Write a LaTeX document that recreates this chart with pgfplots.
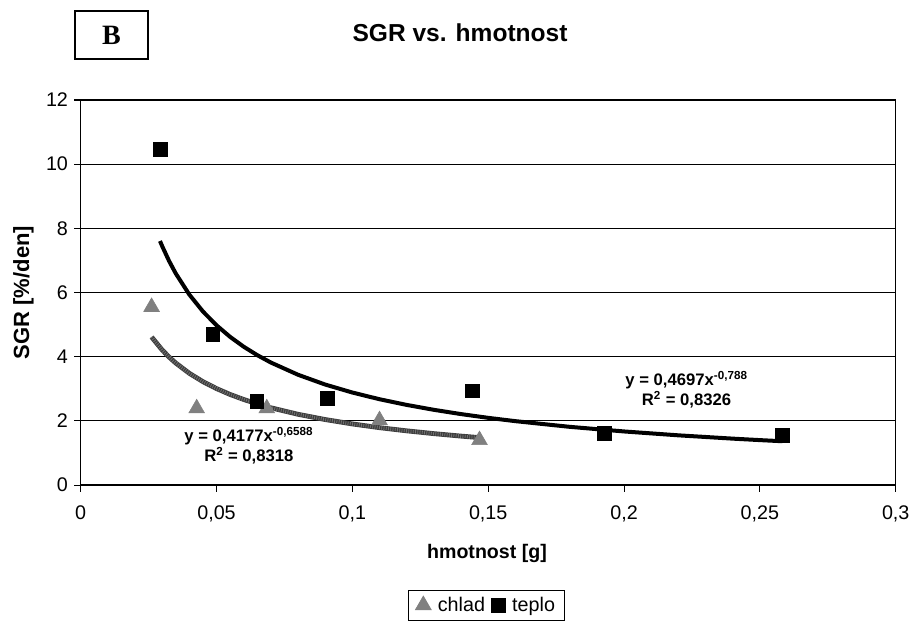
\documentclass[border=0pt]{standalone}
\usepackage{pgfplots}
\pgfplotsset{compat=1.18}
\usepackage{fontspec}
\setmainfont{Liberation Sans}
\newfontfamily\timesfont{Liberation Serif}
\definecolor{chladgray}{RGB}{128,128,128}
\definecolor{trendgray}{RGB}{60,60,60}
\definecolor{hatchgray}{RGB}{115,115,115}
\pgfplotstableread{
x y
0.0261 4.613
0.030 4.209
0.0325 3.992
0.035 3.802
0.040 3.482
0.045 3.222
0.050 3.006
0.055 2.823
0.060 2.666
0.065 2.529
0.070 2.408
0.080 2.205
0.090 2.041
0.100 1.904
0.110 1.788
0.120 1.689
0.130 1.602
0.140 1.525
0.1468 1.478
}\chladtrend
\begin{document}
\begin{tikzpicture}
\useasboundingbox (-60.5pt,-103.5pt) rectangle (624.2pt,363.75pt);
\begin{axis}[
  at={(0,0)}, anchor=south west,
  width=611.25pt, height=288.75pt, scale only axis,
  xmin=0, xmax=0.3, ymin=0, ymax=12,
  xtick={0,0.05,0.1,0.15,0.2,0.25,0.3},
  xticklabels={{0},{0,05},{0,1},{0,15},{0,2},{0,25},{0,3}},
  ytick={0,2,4,6,8,10,12},
  yticklabels={0,2,4,6,8,10,12},
  tick pos=left, tick align=outside, major tick length=5pt,
  tick style={black, line width=0.8pt},
  axis line style={black, line width=1.1pt},
  ymajorgrids, grid style={black, line width=0.75pt},
  ticklabel style={font=\fontsize{14.8}{17}\selectfont},
  /pgf/number format/assume math mode=true,
  xticklabel style={yshift=-7pt},
  yticklabel style={xshift=-1pt},
  xlabel={hmotnost [g]},
  ylabel={SGR [\%/den]},
  xlabel style={font=\bfseries\fontsize{14.7}{17}\selectfont, at={(axis description cs:0.4985,-0.1766)}, anchor=center},
  ylabel style={font=\bfseries\fontsize{16.5}{19}\selectfont, at={(axis description cs:-0.0702,0.5)}, anchor=center},
  legend columns=2,
  legend style={at={(axis description cs:0.498,-0.2727)}, anchor=north, draw=black, line width=0.6pt,
    font=\fontsize{14.8}{17}\selectfont, inner xsep=5pt, inner ysep=3pt, column sep=3pt},
  legend cell align=left,
]
% trendline teplo: y = 0.4697 x^-0.788
\addplot[black, line width=3pt, forget plot] coordinates {
 (0.0292,7.605) (0.030,7.445) (0.0325,6.989) (0.035,6.593) (0.040,5.935) (0.045,5.409)
 (0.050,4.978) (0.055,4.618) (0.060,4.311) (0.065,4.048) (0.070,3.818) (0.080,3.437)
 (0.090,3.132) (0.100,2.883) (0.110,2.674) (0.120,2.497) (0.130,2.344) (0.140,2.211)
 (0.150,2.094) (0.160,1.991) (0.180,1.814) (0.200,1.670) (0.220,1.549) (0.240,1.446)
 (0.250,1.400) (0.2583,1.365)};
% trendline chlad: y = 0.4177 x^-0.6588 (hatched look)
\addplot[trendgray, line width=3.6pt, forget plot] table {\chladtrend};
\addplot[hatchgray, line width=2.6pt, dash pattern=on 0.6pt off 1.1pt, forget plot] table {\chladtrend};
\addplot[only marks, mark=triangle*, mark size=6.8pt, chladgray, mark options={fill=chladgray, draw=chladgray}] coordinates {
 (0.0261,5.55) (0.0427,2.39) (0.0685,2.39) (0.1100,2.02) (0.1468,1.40)};
\addlegendentry{chlad}
\addplot[only marks, mark=square*, mark size=5.2pt, black, mark options={fill=black}] coordinates {
 (0.0292,10.47) (0.0486,4.70) (0.0648,2.60) (0.0909,2.70) (0.1441,2.94) (0.1927,1.61) (0.2583,1.56)};
\addlegendentry{teplo}
\node[font=\bfseries\fontsize{12.5}{15}\selectfont, align=center] at (axis cs:0.2230,2.97)
  {y = 0,4697x\textsuperscript{-0,788}\\R\textsuperscript{2} = 0,8326};
\node[font=\bfseries\fontsize{12.5}{15}\selectfont, align=center] at (axis cs:0.0619,1.216)
  {y = 0,4177x\textsuperscript{-0,6588}\\R\textsuperscript{2} = 0,8318};
\end{axis}
\node[font=\bfseries\fontsize{18.4}{22}\selectfont] at (284.5pt,339pt) {SGR vs. hmotnost};
\node[draw=black, line width=1.2pt, minimum width=54.75pt, minimum height=36pt, inner sep=0pt,
  font=\timesfont\bfseries\fontsize{21}{24}\selectfont] at (23.1pt,337.5pt) {B};
\end{tikzpicture}
\end{document}
